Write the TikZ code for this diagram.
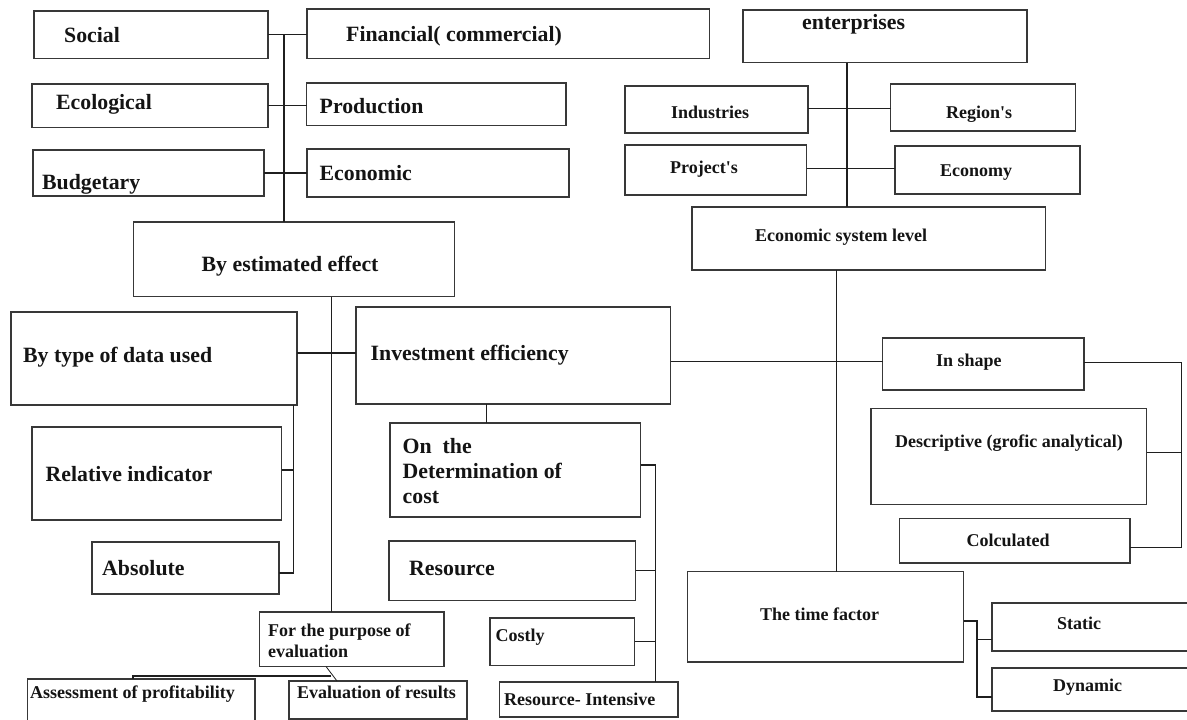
\documentclass[tikz,border=0pt]{standalone}
\usepackage{fontspec}
\setmainfont{Liberation Serif}
\tikzset{
  box/.style={draw=black!78, line width=1.5pt, inner sep=0pt, outer sep=0pt, anchor=north west},
  big/.style={font=\fontsize{21.8}{25}\selectfont\bfseries, inner sep=0pt, anchor=base west, text=black!92},
  sml/.style={font=\fontsize{18}{21}\selectfont\bfseries, inner sep=0pt, anchor=base west, text=black!92},
  conn/.style={line width=1.2pt, draw=black!88}
}
\newcommand\bx[5]{\node[box, minimum width={#4-#2}, minimum height={#5-#3}] (#1) at (#2,#3) {};}
\begin{document}
\begin{tikzpicture}[x=1pt,y=-1pt]
\fill[white] (0,0) rectangle (1187,720);
\useasboundingbox (0,0) rectangle (1187,720);
% ---------- boxes ----------
\bx{social}{34}{11}{268}{58.5}
\bx{fin}{307}{9}{709.5}{58.5}
\bx{eco}{32}{84}{268}{127.5}
\bx{prod}{306.5}{83}{566}{125.5}
\bx{budg}{33}{150}{264}{196}
\bx{econ}{307}{149}{569}{197}
\bx{effect}{133.5}{222}{454.5}{296.5}
\bx{ent}{743}{10}{1027}{62.5}
\bx{ind}{625}{86}{808}{133}
\bx{reg}{890.5}{84}{1075.5}{131}
\bx{proj}{625}{145}{806.5}{195}
\bx{ecny}{895}{146}{1080}{194}
\bx{esl}{692}{207}{1045.5}{270}
\bx{datatype}{11}{312}{297}{405}
\bx{inv}{356}{307}{670.5}{404}
\bx{rel}{32}{427}{281.5}{520}
\bx{abs}{92}{542}{279}{594}
\bx{det}{390}{423}{640.5}{517}
\bx{res}{389}{541}{635.5}{600.5}
\bx{costly}{490}{618}{634.5}{665.5}
\bx{resint}{499.5}{682}{678}{717}
\bx{purpose}{259.5}{612}{444}{666.5}
\bx{assess}{27.5}{679}{255}{730}
\bx{evalr}{289}{681}{467}{719}
\bx{shape}{882.5}{338}{1084}{390}
\bx{desc}{871}{408.5}{1146.5}{504.5}
\bx{calc}{899.5}{518.5}{1130}{563}
\bx{time}{687.5}{571.5}{963.5}{662}
\bx{static}{992}{603}{1195}{651}
\bx{dyn}{992}{668}{1195}{711}
% ---------- texts ----------
\node[big] (social-t) at (64,42) {Social};
\node[big] (fin-t) at (346,41) {Financial( commercial)};
\node[big] (eco-t) at (56,109) {Ecological};
\node[big] (prod-t) at (319.5,113) {Production};
\node[big] (budg-t) at (42,189.5) {Budgetary};
\node[big] (econ-t) at (319.5,180) {Economic};
\node[big] (effect-t) at (201.5,271) {By estimated effect};
\node[big] (ent-t) at (802,30) {enterprises};
\node[sml] (ind-t) at (671,118) {Industries};
\node[sml] (reg-t) at (946,118) {Region\textquotesingle s};
\node[sml] (proj-t) at (670,173) {Project\textquotesingle s};
\node[sml] (ecny-t) at (940,176) {Economy};
\node[sml] (esl-t) at (755,241) {Economic system level};
\node[big] (datatype-t) at (23,362) {By type of data used};
\node[big] (inv-t) at (370.5,360) {Investment efficiency};
\node[big] (rel-t) at (45.5,481) {Relative indicator};
\node[big] (abs-t) at (102,575) {Absolute};
\node[big, anchor=north west, align=left] (det-t) at (402.5,438) {On\ \ the\\Determination of\\cost};
\node[big] (res-t) at (409,575) {Resource};
\node[sml] (costly-t) at (495.5,641) {Costly};
\node[sml] (resint-t) at (504,705) {Resource- Intensive};
\node[sml, anchor=north west, align=left] (purpose-t) at (268,623.5) {For the purpose of\\evaluation};
\node[sml] (assess-t) at (30,698) {Assessment of profitability};
\node[sml] (evalr-t) at (297,698) {Evaluation of results};
\node[sml] (shape-t) at (936,366) {In shape};
\node[sml] (desc-t) at (895,447) {Descriptive (grofic analytical)};
\node[sml] (calc-t) at (966.5,546) {Colculated};
\node[sml] (time-t) at (760,620) {The time factor};
\node[sml] (static-t) at (1057,629) {Static};
\node[sml] (dyn-t) at (1053,691) {Dynamic};
% ---------- connectors ----------
% left top group
\draw[conn] (social.east) -- (social.east -| fin.west);
\draw[conn] (eco.east) -- (eco.east -| prod.west);
\draw[conn] (budg.east) -- (budg.east -| econ.west);
\coordinate (jtop) at (284,34.7);
\draw[conn] (jtop) -- (jtop |- effect.north);
\coordinate (v1) at (331.7,0);
\draw[conn] (effect.south -| v1) -- (purpose.north -| v1);
% data type
\coordinate (h1) at (0,353);
\draw[conn] (datatype.east |- h1) -- (inv.west |- h1);
\coordinate (abst) at (293.3,573);
\draw[conn] (datatype.south -| abst) -- (abst) -- (abst -| abs.east);
\coordinate (relt) at (293.3,470);
\draw[conn] (relt) -- (relt -| rel.east);
% investment efficiency branch
\coordinate (v3) at (486.8,0);
\draw[conn] (inv.south -| v3) -- (det.north -| v3);
\coordinate (dj) at (655.5,465);
\draw[conn] (det.east |- dj) -- (dj) -- (dj |- resint.north);
\draw[conn] (res.east) -- (res.east -| dj);
\draw[conn] (costly.east) -- (costly.east -| dj);
% purpose of evaluation
\coordinate (pa) at (326,0);
\coordinate (pb) at (337,0);
\draw[conn, line width=0.8pt] (purpose.south -| pa) -- (evalr.north -| pb);
\coordinate (ph) at (331,676);
\coordinate (pl) at (133,676);
\draw[conn] (ph) -- (pl) -- (pl |- assess.north);
% right top group
\coordinate (v4) at (847,0);
\draw[conn] (ent.south -| v4) -- (esl.north -| v4);
\coordinate (h3) at (0,108.3);
\draw[conn] (ind.east |- h3) -- (reg.west |- h3);
\coordinate (h4) at (0,168.3);
\draw[conn] (proj.east |- h4) -- (ecny.west |- h4);
\coordinate (v5) at (836.8,0);
\draw[conn] (esl.south -| v5) -- (time.north -| v5);
% in shape
\coordinate (h2) at (0,361.3);
\draw[conn] (inv.east |- h2) -- (shape.west |- h2);
\coordinate (bj) at (1181.3,362.3);
\coordinate (bd) at (1181.3,452.7);
\coordinate (bb) at (1181.3,547.3);
\draw[conn] (shape.east |- bj) -- (bj) -- (bb) -- (bb -| calc.east);
\draw[conn] (desc.east |- bd) -- (bd);
% time factor
\coordinate (tj) at (977,621);
\coordinate (ts) at (977,639.5);
\coordinate (td) at (977,697);
\draw[conn] (time.east |- tj) -- (tj) -- (td) -- (td -| dyn.west);
\draw[conn] (ts) -- (ts -| static.west);
\end{tikzpicture}
\end{document}
